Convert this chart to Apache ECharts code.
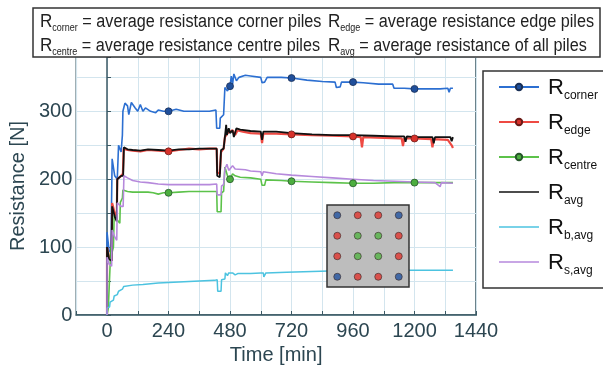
<!DOCTYPE html>
<html>
<head>
<meta charset="utf-8">
<script src="https://cdn.jsdelivr.net/npm/echarts@6/dist/echarts.min.js"></script>
<style>
  html, body { margin: 0; padding: 0; background: #fff; }
  #container { width: 603px; height: 372px; }
</style>
</head>
<body>
<div id="container"></div>
<script>
// time [min], resistance [N]
const corner = [[0,0],[0,122],[8,95],[15,92],[20,230],[30,205],[40,200],[45,250],[55,240],[60,265],[62,300],[70,312],[80,308],[85,295],[95,313],[110,305],[120,300],[130,310],[140,300],[150,305],[170,300],[190,298],[200,302],[220,300],[240,300],[270,303],[300,300],[330,300],[370,300],[400,300],[425,302],[428,275],[440,275],[442,290],[455,295],[460,335],[470,330],[480,337],[485,352],[490,340],[495,355],[505,345],[515,350],[540,353],[560,352],[600,350],[605,342],[615,343],[625,350],[680,350],[720,349],[780,346],[840,344],[890,343],[895,335],[910,336],[915,343],[960,343],[1000,342],[1060,340],[1115,340],[1120,334],[1160,334],[1200,333],[1260,333],[1300,333],[1330,334],[1335,328],[1340,334],[1350,334]];
const edge = [[0,0],[0,100],[8,85],[18,80],[20,165],[30,150],[38,140],[40,200],[55,205],[62,208],[65,245],[80,243],[100,242],[130,241],[160,243],[200,242],[240,241],[280,243],[320,245],[360,244],[400,245],[428,245],[430,210],[440,208],[445,240],[455,245],[460,262],[470,268],[480,270],[490,272],[500,265],[510,272],[530,270],[560,268],[600,267],[605,253],[610,267],[660,267],[720,266],[800,265],[880,264],[960,263],[990,262],[995,247],[1000,262],[1080,261],[1150,260],[1155,249],[1160,260],[1200,260],[1265,259],[1270,247],[1275,259],[1330,258],[1345,250],[1350,246]];
const centre = [[0,0],[5,10],[10,55],[15,100],[17,88],[25,100],[28,147],[40,140],[50,135],[52,166],[60,172],[62,184],[80,182],[100,181],[130,181],[160,181],[180,180],[200,178],[220,180],[240,180],[280,181],[320,182],[360,182],[400,182],[428,182],[430,152],[445,152],[447,180],[455,182],[460,218],[470,205],[480,200],[490,208],[500,205],[520,203],[560,202],[600,200],[605,191],[615,191],[620,199],[680,198],[720,197],[800,196],[880,195],[960,194],[1040,194],[1120,195],[1200,195],[1280,195],[1350,195]];
const avg = [[0,0],[0,100],[8,82],[18,80],[20,160],[30,145],[38,138],[40,200],[55,205],[63,205],[66,247],[80,244],[100,243],[130,242],[160,244],[200,243],[240,242],[280,244],[320,244],[360,245],[400,245],[428,245],[430,205],[440,203],[445,243],[455,245],[460,262],[465,280],[468,265],[475,275],[480,268],[490,272],[495,262],[505,275],[520,273],[560,271],[600,270],[605,258],[610,270],[660,270],[720,268],[800,266],[880,265],[960,265],[1040,264],[1120,263],[1160,263],[1165,255],[1170,263],[1200,262],[1270,262],[1275,253],[1280,262],[1340,262],[1345,256],[1350,262]];
const bAvg = [[0,0],[0,10],[10,12],[12,19],[25,22],[28,28],[40,30],[45,35],[60,38],[65,42],[100,44],[140,45],[200,47],[240,48],[300,49],[360,50],[420,51],[430,52],[432,35],[445,35],[447,52],[460,53],[462,62],[470,58],[475,62],[480,60],[490,62],[500,59],[510,61],[560,61],[600,62],[610,62],[612,56],[620,62],[700,63],[800,64],[900,65],[1000,66],[1100,66],[1200,66],[1350,66]];
const sAvg = [[0,0],[0,85],[8,75],[18,72],[20,125],[30,115],[38,110],[40,165],[55,160],[63,160],[66,205],[80,202],[100,198],[130,196],[160,195],[200,193],[240,192],[300,192],[360,192],[400,192],[428,193],[430,177],[445,177],[447,190],[455,192],[460,215],[468,222],[475,213],[480,215],[490,220],[500,215],[540,214],[560,212],[600,211],[605,205],[610,211],[660,208],[720,206],[800,204],[880,202],[960,200],[1040,198],[1120,197],[1200,196],[1280,195],[1300,189],[1305,195],[1350,194]];

const markTimes = [240, 480, 720, 960, 1200];
const edgeMarkTimes = [240, 720, 960, 1200];

const pileLayout = [
  ['corner', 'edge', 'edge', 'corner'],
  ['edge', 'centre', 'centre', 'edge'],
  ['edge', 'centre', 'centre', 'edge'],
  ['corner', 'edge', 'edge', 'corner']
];

const FONT = 'Liberation Sans';
const AXIS = '#3b5964';
const TXT = '#2c4651';
const lineIcon = 'path://M0,0L40,0L40,1.6L0,1.6Z';

const pileColor = { corner: '#22539f', edge: '#e0352e', centre: '#52b344' };

const pileData = [];
pileLayout.forEach((row, r) => row.forEach((t, c) => pileData.push({ value: [c, 3 - r], itemStyle: { color: pileColor[t] } })));

function marked(times) {
  return (val) => (times.indexOf(val[0]) >= 0 ? 7 : 0);
}

const chart = echarts.init(document.getElementById('container'));

// condensed text in the key box above the plot
const boxText = (x, y, sub, rest) => ({
  type: 'text', x: x, y: y, z: 101, scaleX: 0.9,
  style: {
    text: '{r|R}{s|' + sub + '}{t| = ' + rest + '}',
    font: '18px ' + FONT,
    fill: '#222',
    rich: {
      r: { fontSize: 19, fontFamily: FONT, fill: '#222', lineHeight: 21, verticalAlign: 'bottom' },
      s: { fontSize: 10, fontFamily: FONT, fill: '#222', lineHeight: 12, verticalAlign: 'bottom', padding: [0, 0, -2, 0] },
      t: { fontSize: 18, fontFamily: FONT, fill: '#222', lineHeight: 21, verticalAlign: 'bottom' }
    }
  }
});

chart.setOption({
  animation: false,
  textStyle: { fontFamily: FONT },
  grid: [
    { left: 76, right: 127, top: 57, bottom: 57, show: true, backgroundColor: '#fff', borderColor: AXIS, borderWidth: 1.5 },
    { left: 327, top: 205, width: 82, height: 82, show: true, backgroundColor: '#bdbdbd', borderColor: '#333', borderWidth: 1.5, z: 10 }
  ],
  xAxis: [{
    type: 'value', min: -120, max: 1440, interval: 120,
    name: 'Time [min]', nameLocation: 'middle', nameGap: 30,
    nameTextStyle: { fontSize: 20, color: TXT, fontFamily: FONT },
    axisLine: { lineStyle: { color: AXIS, width: 1.5 } },
    axisTick: { inside: true, length: 4, lineStyle: { color: AXIS } },
    axisLabel: { fontSize: 20, color: TXT, margin: 6, formatter: (v) => (v >= 0 && v % 240 === 0 ? v : '') },
    splitLine: { lineStyle: { color: '#d3e5ee', width: 1 } }
  }, {
    gridIndex: 1, type: 'value', min: -0.5, max: 3.5, show: false
  }],
  yAxis: [{
    type: 'value', min: 0, max: 380, interval: 50,
    name: 'Resistance [N]', nameLocation: 'middle', nameGap: 44,
    nameTextStyle: { fontSize: 20, color: TXT, fontFamily: FONT },
    axisLine: { show: true, lineStyle: { color: AXIS, width: 1.5 } },
    axisTick: { show: true, inside: true, length: 4, lineStyle: { color: AXIS } },
    axisLabel: { fontSize: 20, color: TXT, margin: 4, formatter: (v) => (v % 100 === 0 ? v : '') },
    splitLine: { lineStyle: { color: '#d3e5ee', width: 1 } }
  }, {
    gridIndex: 1, type: 'value', min: -0.5, max: 3.5, show: false
  }],
  legend: {
    orient: 'vertical', left: 483, top: 71,
    padding: [6, 30, 11, 15], itemGap: 10, itemWidth: 40, itemHeight: 8,
    borderColor: '#333', borderWidth: 1.5, backgroundColor: '#fff',
    data: [
      { name: 'corner' }, { name: 'edge' }, { name: 'centre' },
      { name: 'avg', icon: lineIcon }, { name: 'b,avg', icon: lineIcon }, { name: 's,avg', icon: lineIcon }
    ],
    formatter: (n) => '{r|R}{s|' + n + '}',
    textStyle: {
      rich: {
        r: { fontSize: 22, fontFamily: FONT, color: '#111', lineHeight: 24, verticalAlign: 'bottom', padding: [0, 0, 0, 4] },
        s: { fontSize: 12, fontFamily: FONT, color: '#111', lineHeight: 12, verticalAlign: 'bottom', padding: [0, 0, -3, 0] }
      }
    }
  },
  graphic: [
    { type: 'rect', z: 100, shape: { x: 33, y: 8, width: 567, height: 49 }, style: { fill: '#fff', stroke: '#333', lineWidth: 1.5 } },
    boxText(40, 10, 'corner', 'average resistance corner piles'),
    boxText(328, 10, 'edge', 'average resistance edge piles'),
    boxText(40, 34, 'centre', 'average resistance centre piles'),
    boxText(328, 34, 'avg', 'average resistance of all piles')
  ],
  series: [
    { name: 'corner', type: 'line', data: corner, symbol: 'circle', symbolSize: marked(markTimes), showAllSymbol: true,
      lineStyle: { color: '#2c6fd1', width: 1.6 }, itemStyle: { color: '#1f4f9b', borderColor: '#1a2f55', borderWidth: 0.8 } },
    { name: 'edge', type: 'line', data: edge, symbol: 'circle', symbolSize: marked(edgeMarkTimes), showAllSymbol: true,
      lineStyle: { color: '#ee4a43', width: 2.2 }, itemStyle: { color: '#d8322b', borderColor: '#6b1a16', borderWidth: 0.8 } },
    { name: 'centre', type: 'line', data: centre, symbol: 'circle', symbolSize: marked(markTimes), showAllSymbol: true,
      lineStyle: { color: '#5cc24a', width: 1.6 }, itemStyle: { color: '#4cae3f', borderColor: '#26562a', borderWidth: 0.8 } },
    { name: 'avg', type: 'line', data: avg, symbol: 'none', lineStyle: { color: '#111', width: 1.8 }, itemStyle: { color: '#111' } },
    { name: 'b,avg', type: 'line', data: bAvg, symbol: 'none', lineStyle: { color: '#4cc3e0', width: 1.5 }, itemStyle: { color: '#4cc3e0' } },
    { name: 's,avg', type: 'line', data: sAvg, symbol: 'none', lineStyle: { color: '#b689dc', width: 1.6 }, itemStyle: { color: '#b689dc' } },
    { name: 'piles', type: 'scatter', xAxisIndex: 1, yAxisIndex: 1, data: pileData, symbolSize: 7, z: 11,
      itemStyle: { borderColor: '#3a2a2a', borderWidth: 0.8 } }
  ]
});
</script>
</body>
</html>
